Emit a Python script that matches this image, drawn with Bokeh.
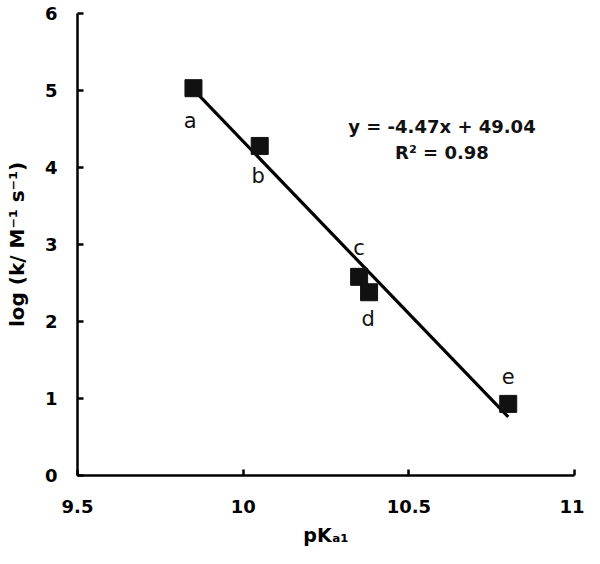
from bokeh.plotting import figure
from bokeh.models import Range1d, FixedTicker, ColumnDataSource
from bokeh.core.properties import value
from bokeh.embed import file_html
from bokeh.resources import INLINE

# ---- data ----
pka = [9.85, 10.05, 10.35, 10.38, 10.80]
logk = [5.03, 4.28, 2.58, 2.38, 0.93]
names = ["a", "b", "c", "d", "e"]
name_x = [9.84, 10.045, 10.35, 10.377, 10.80]
name_y = [4.61, 3.89, 2.96, 2.03, 1.29]
fit_x = [9.85, 10.80]
fit_y = [5.01, 0.76]
x_ticks = [9.5, 10, 10.5, 11]
x_tick_labels = ["9.5", "10", "10.5", "11"]
y_ticks = [0, 1, 2, 3, 4, 5, 6]
eq_lines = ["y = -4.47x + 49.04", "R\u00b2 = 0.98"]
eq_x = [10.60, 10.60]
eq_y = [4.53, 4.19]
x_title = "pK\u2090\u2081"
y_title = "log (k/ M\u207b\u00b9 s\u207b\u00b9)"

FONT = "DejaVu Sans"

p = figure(width=584, height=548, output_backend="svg", toolbar_location=None,
           x_range=Range1d(9.5, 11), y_range=Range1d(0, 6),
           min_border_left=77, min_border_right=10, min_border_top=13, min_border_bottom=70)
p.outline_line_color = None
p.xgrid.grid_line_color = None
p.ygrid.grid_line_color = None
p.background_fill_color = "white"
p.border_fill_color = "white"

for ax in (p.xaxis[0], p.yaxis[0]):
    ax.axis_line_width = 2.5
    ax.axis_line_color = "black"
    ax.major_tick_line_width = 2.5
    ax.major_tick_line_color = "black"
    ax.major_tick_in = 6
    ax.major_tick_out = 0
    ax.minor_tick_line_color = None
    ax.major_label_text_font = FONT
    ax.major_label_text_font_style = "bold"
    ax.major_label_text_font_size = "18px"
    ax.major_label_text_color = "black"
    ax.axis_label_text_font = FONT
    ax.axis_label_text_font_style = "bold"
    ax.axis_label_text_color = "black"

p.xaxis.ticker = FixedTicker(ticks=x_ticks)
p.xaxis.major_label_overrides = {t: l for t, l in zip(x_ticks, x_tick_labels)}
p.xaxis.major_label_standoff = 24
p.xaxis.axis_label = x_title
p.xaxis.axis_label_text_font_size = "19px"
p.xaxis.axis_label_standoff = 8

p.yaxis.ticker = FixedTicker(ticks=y_ticks)
p.yaxis.major_label_standoff = 20
p.yaxis.axis_label = y_title
p.yaxis.axis_label_text_font_size = "20px"
p.yaxis.axis_label_standoff = 13

# fitted line and points
p.line(fit_x, fit_y, line_color="black", line_width=3.2)
p.scatter(pka, logk, marker="square", size=17, fill_color="#111111", line_color="#111111")
src = ColumnDataSource(dict(x=name_x, y=name_y, t=names))
p.text("x", "y", text="t", source=src, text_align="center", text_baseline="middle",
       text_font=value(FONT), text_font_size="21px", text_color="#111111")
src2 = ColumnDataSource(dict(x=eq_x, y=eq_y, t=eq_lines))
p.text("x", "y", text="t", source=src2, text_align="center", text_baseline="middle",
       text_font=value(FONT), text_font_style="bold", text_font_size="18px", text_color="#111111")

open("out.html", "w").write(file_html(p, INLINE))
